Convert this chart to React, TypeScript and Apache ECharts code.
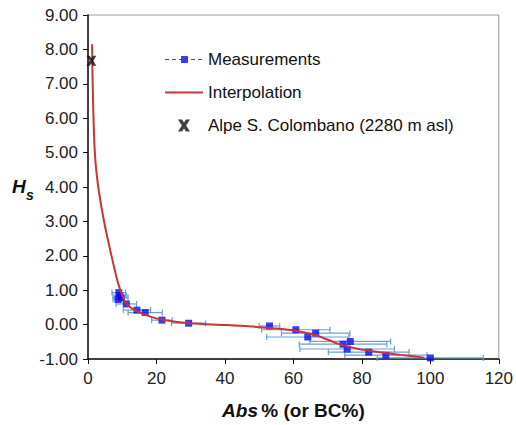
import React, { useEffect, useRef } from "react";
import * as echarts from "echarts";

// Measurements: Abs % (x), Hs (y), horizontal error half-width (Abs %)
const measX = [9.0, 9.3, 8.8, 9.7, 11.2, 14.3, 16.7, 21.6, 29.4, 53.0, 60.7, 64.2, 66.5, 74.5, 75.7, 76.6, 82.0, 87.0, 100.0];
const measY = [0.93, 0.83, 0.73, 0.78, 0.6, 0.42, 0.35, 0.13, 0.04, -0.04, -0.15, -0.36, -0.25, -0.57, -0.71, -0.49, -0.8, -0.89, -0.97];
const measErr = [2, 2, 1.5, 2, 3, 4, 5, 3, 5, 3, 10, 12, 10, 12.8, 13.8, 11.8, 11.8, 12, 15.5];

// Interpolation curve
const curveX = [1.2, 1.3, 1.45, 1.65, 1.9, 2.3, 3.0, 3.7, 4.4, 5.3, 6.4, 7.6, 8.8, 10.0, 11.0, 12.5, 14.2, 18.0, 21.7, 29.6, 40.0, 47.0, 56.6, 62.9, 66.3, 70.1, 74.0, 78.8, 83.7, 91.3, 98.2];
const curveY = [8.15, 7.4, 6.6, 5.85, 5.2, 4.6, 4.0, 3.55, 3.15, 2.7, 2.2, 1.68, 1.2, 0.85, 0.64, 0.49, 0.39, 0.24, 0.14, 0.04, -0.01, -0.05, -0.13, -0.22, -0.3, -0.44, -0.59, -0.7, -0.78, -0.88, -0.96];

// Alpe S. Colombano (2280 m asl)
const alpeX = [1.0];
const alpeY = [7.67];

const FONT = "'Liberation Sans', Arial, Helvetica, sans-serif";
const X_MARK = "path://M0,0 L3.4,0 L5,2.6 L6.6,0 L10,0 L6.8,5 L10,10 L6.6,10 L5,7.4 L3.4,10 L0,10 L3.2,5 Z";
const MEAS_ICON = "path://M0,0 h0.01 v0.01 h-0.01 z M0,5.5 h4 v1 h-4 z M7,5.5 h4 v1 h-4 z M14,5.5 h3 v1 h-3 z M16,2.5 h7 v7 h-7 z M26,5.5 h4 v1 h-4 z M33,5.5 h4 v1 h-4 z M37.99,11.99 h0.01 v0.01 h-0.01 z";
const LINE_ICON = "path://M0,0 h0.01 v0.01 h-0.01 z M0,5 h38 v2 h-38 z M37.99,11.99 h0.01 v0.01 h-0.01 z";

export default function App() {
  const ref = useRef<HTMLDivElement>(null);
  useEffect(() => {
    if (!ref.current) return;
    const chart = echarts.init(ref.current, null, { renderer: "svg" });
    const meas = measX.map((x, i) => [x, measY[i], measErr[i]]);
    const curve = curveX.map((x, i) => [x, curveY[i]]);
    const alpe = alpeX.map((x, i) => [x, alpeY[i]]);
    chart.setOption({
      animation: false,
      backgroundColor: "#ffffff",
      textStyle: { fontFamily: FONT },
      grid: { left: 88, right: 14, top: 15, bottom: 64, show: true, borderColor: "#9a9a9a", borderWidth: 1 },
      legend: {
        orient: "vertical",
        left: 165,
        top: 51,
        padding: 0,
        itemGap: 16,
        itemWidth: 38,
        itemHeight: 12,
        textStyle: { fontSize: 17, color: "#111", fontFamily: FONT },
        data: [
          { name: "Measurements", icon: MEAS_ICON },
          { name: "Interpolation", icon: LINE_ICON },
          { name: "Alpe S. Colombano (2280 m asl)" },
        ],
      },
      xAxis: {
        type: "value",
        min: 0,
        max: 120,
        interval: 20,
        name: "{a|Abs} {b|% (or BC%)}",
        nameLocation: "middle",
        nameGap: 42,
        nameTextStyle: {
          rich: {
            a: { fontSize: 19, fontWeight: "bold", fontStyle: "italic", color: "#111", fontFamily: FONT },
            b: { fontSize: 19, fontWeight: "bold", color: "#111", fontFamily: FONT },
          },
        },
        axisLine: { onZero: false, lineStyle: { color: "#111", width: 1.5 } },
        axisTick: { show: true, length: 5, lineStyle: { color: "#111" } },
        axisLabel: { fontSize: 17, color: "#222", margin: 11, fontFamily: FONT },
        splitLine: { show: false },
      },
      yAxis: {
        type: "value",
        min: -1,
        max: 9,
        interval: 1,
        axisLine: { show: true, onZero: false, lineStyle: { color: "#111", width: 1.5 } },
        axisTick: { show: true, length: 5, lineStyle: { color: "#111" } },
        axisLabel: {
          fontSize: 17,
          color: "#222",
          margin: 10,
          fontFamily: FONT,
          formatter: (v: number) => v.toFixed(2),
        },
        splitLine: { show: false },
      },
      graphic: [
        { type: "text", left: 12, top: 177, style: { text: "H", fontSize: 19, fontWeight: "bold", fontStyle: "italic", fill: "#111", fontFamily: FONT } },
        { type: "text", left: 26, top: 188, style: { text: "s", fontSize: 14, fontWeight: "bold", fontStyle: "italic", fill: "#111", fontFamily: FONT } },
      ],
      series: [
        {
          name: "errorbars",
          type: "custom",
          z: 2,
          silent: true,
          data: meas,
          encode: { x: 0, y: 1 },
          renderItem: (params: any, api: any) => {
            const x = api.value(0);
            const y = api.value(1);
            const e = api.value(2);
            const p1 = api.coord([x - e, y]);
            const p2 = api.coord([x + e, y]);
            const style = { stroke: "#6b9fd9", lineWidth: 1.2 };
            const cap = 3;
            return {
              type: "group",
              children: [
                { type: "line", shape: { x1: p1[0], y1: p1[1], x2: p2[0], y2: p2[1] }, style },
                { type: "line", shape: { x1: p1[0], y1: p1[1] - cap, x2: p1[0], y2: p1[1] + cap }, style },
                { type: "line", shape: { x1: p2[0], y1: p2[1] - cap, x2: p2[0], y2: p2[1] + cap }, style },
              ],
            };
          },
        },
        {
          name: "Measurements",
          type: "scatter",
          z: 3,
          data: meas.map((d) => [d[0], d[1]]),
          symbol: "rect",
          symbolSize: 7,
          itemStyle: { color: "#0a0af5" },
        },
        {
          name: "Interpolation",
          type: "line",
          z: 4,
          data: curve,
          smooth: 0.3,
          symbol: "none",
          lineStyle: { color: "#c93434", width: 2 },
          itemStyle: { color: "#c93434" },
        },
        {
          name: "Alpe S. Colombano (2280 m asl)",
          type: "scatter",
          z: 5,
          data: alpe,
          symbol: X_MARK,
          symbolSize: 10,
          itemStyle: { color: "#111" },
        },
      ],
    });
    return () => chart.dispose();
  }, []);
  return <div ref={ref} style={{ width: 516, height: 425, position: "absolute", left: 0, top: 0 }} />;
}
